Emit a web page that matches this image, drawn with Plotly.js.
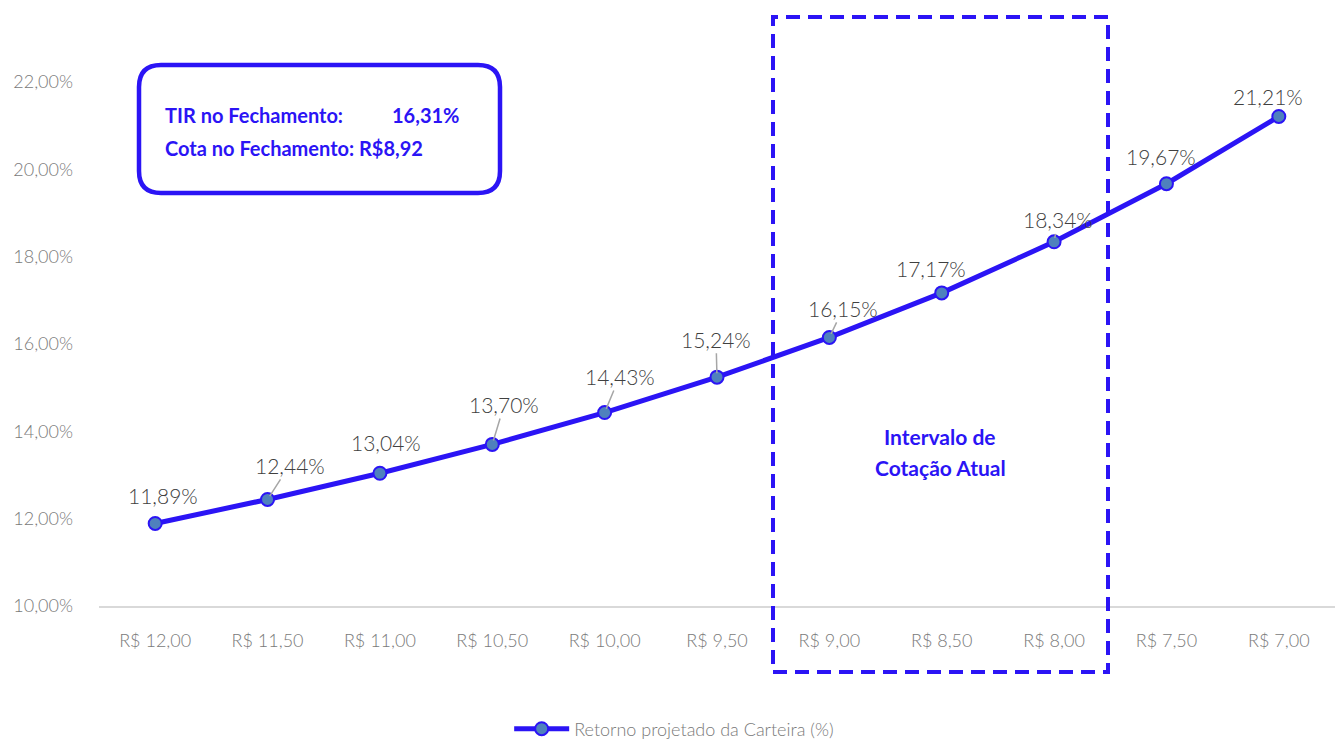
<!DOCTYPE html>
<html><head><meta charset="utf-8">
<script src="https://cdn.plot.ly/plotly-3.0.1.min.js"></script>
<style>html,body{margin:0;padding:0;background:#fff}#chart{width:1335px;height:740px}</style>
</head><body><div id="chart"></div>
<script>
const categories = ["R$ 12,00","R$ 11,50","R$ 11,00","R$ 10,50","R$ 10,00","R$ 9,50","R$ 9,00","R$ 8,50","R$ 8,00","R$ 7,50","R$ 7,00"];
const retorno = [11.89, 12.44, 13.04, 13.70, 14.43, 15.24, 16.15, 17.17, 18.34, 19.67, 21.21];
const labels = ["11,89%","12,44%","13,04%","13,70%","14,43%","15,24%","16,15%","17,17%","18,34%","19,67%","21,21%"];
const yTickVals = [10, 12, 14, 16, 18, 20, 22];
const yTickText = ["10,00%","12,00%","14,00%","16,00%","18,00%","20,00%","22,00%"];
const seriesName = "Retorno projetado da Carteira (%)";
const infoTIR = "16,31%";
const infoCota = "R$8,92";

const BLUE = "#2B14F5";
const FONT = "Lato, 'Open Sans', sans-serif";

// label offsets (px) and whether a leader line is drawn
const labelOffsets = [
  [8,-28,false],[22,-34,true],[6,-31,false],[12,-40,true],[15,-36,true],[-1,-38,true],
  [14,-29,true],[-11,-24,false],[4,-22,true],[-5,-27,false],[-11,-20,false]
];

const annotations = retorno.map((v,i)=>{
  const o = labelOffsets[i];
  return {
    x: categories[i], y: v, xref:'x', yref:'y',
    text: labels[i], showarrow: true, arrowhead: 0, arrowwidth: 1.5,
    arrowcolor: o[2] ? '#a6a6a6' : 'rgba(0,0,0,0)',
    ax: o[0], ay: o[1], standoff: 4,
    font: {family: FONT, size: 21, weight: 300, color: '#404040'}
  };
});

function px(x){return (x-99)/1236;}
function py(y){return (606-y)/596;}

annotations.push(
  {xref:'paper', yref:'paper', x:px(163), y:py(115), xanchor:'left', yanchor:'middle', showarrow:false,
   text:'<b>TIR no Fechamento:</b>', font:{family:FONT, size:20, color:BLUE}},
  {xref:'paper', yref:'paper', x:px(390), y:py(115), xanchor:'left', yanchor:'middle', showarrow:false,
   text:'<b>'+infoTIR+'</b>', font:{family:FONT, size:20, color:BLUE}},
  {xref:'paper', yref:'paper', x:px(163), y:py(148), xanchor:'left', yanchor:'middle', showarrow:false,
   text:'<b>Cota no Fechamento: '+infoCota+'</b>', font:{family:FONT, size:20, color:BLUE}},
  {xref:'paper', yref:'paper', x:px(940), y:py(436), xanchor:'center', yanchor:'middle', showarrow:false,
   text:'<b>Intervalo de</b>', font:{family:FONT, size:21, color:BLUE}},
  {xref:'paper', yref:'paper', x:px(940), y:py(467), xanchor:'center', yanchor:'middle', showarrow:false,
   text:'<b>Cotação Atual</b>', font:{family:FONT, size:21, color:BLUE}}
);

// rounded rect path in paper coords
function roundRect(x0,y0,x1,y1,r){
  const rx=r/1236, ry=r/596;
  const L=px(x0), R=px(x1), T=py(y0), B=py(y1);
  return `M ${L+rx},${T} L ${R-rx},${T} Q ${R},${T} ${R},${T-ry} L ${R},${B+ry} Q ${R},${B} ${R-rx},${B} L ${L+rx},${B} Q ${L},${B} ${L},${B+ry} L ${L},${T-ry} Q ${L},${T} ${L+rx},${T} Z`;
}

const shapes = [
  {type:'path', xref:'paper', yref:'paper', path: roundRect(139,65,500,193,22),
   line:{color:BLUE, width:4.5}, fillcolor:'rgba(0,0,0,0)'},
  {type:'rect', xref:'paper', yref:'paper', x0:px(773), x1:px(1108), y0:py(672), y1:py(17),
   line:{color:BLUE, width:4, dash:'14px,8px'}, fillcolor:'rgba(0,0,0,0)'}
];

const trace = {
  x: categories, y: retorno, type:'scatter', mode:'lines+markers', name: seriesName,
  line:{color:BLUE, width:5},
  marker:{size:13, color:'#4F81BD', line:{color:BLUE, width:2}},
  cliponaxis:false
};

const layout = {
  width:1335, height:740,
  margin:{l:99, r:0, t:10, b:134, autoexpand:false},
  paper_bgcolor:'#fff', plot_bgcolor:'#fff',
  font:{family:FONT, color:'#595959'},
  xaxis:{type:'category', range:[-0.5, 10.5], automargin:false, tickangle:0, showgrid:false, zeroline:false, showline:true, linecolor:'#d9d9d9', linewidth:2,
    tickfont:{family:FONT, size:18, weight:300, color:'#7a7a7a'}, ticks:'', ticklabelstandoff:17, fixedrange:true},
  yaxis:{range:[10, 23.648], automargin:false, tickvals:yTickVals, ticktext:yTickText, showgrid:false, zeroline:false, showline:false,
    tickfont:{family:FONT, size:18, weight:300, color:'#7a7a7a'}, ticks:'', ticklabelstandoff:25, fixedrange:true},
  showlegend:true,
  legend:{orientation:'h', xref:'container', yref:'paper', x:0.505, xanchor:'center', y:py(729), yanchor:'middle',
    itemwidth:55, font:{family:FONT, size:18, weight:300, color:'#7a7a7a'}},
  annotations: annotations,
  shapes: shapes
};

Plotly.newPlot('chart', [trace], layout, {displayModeBar:false, staticPlot:true});
</script></body></html>
